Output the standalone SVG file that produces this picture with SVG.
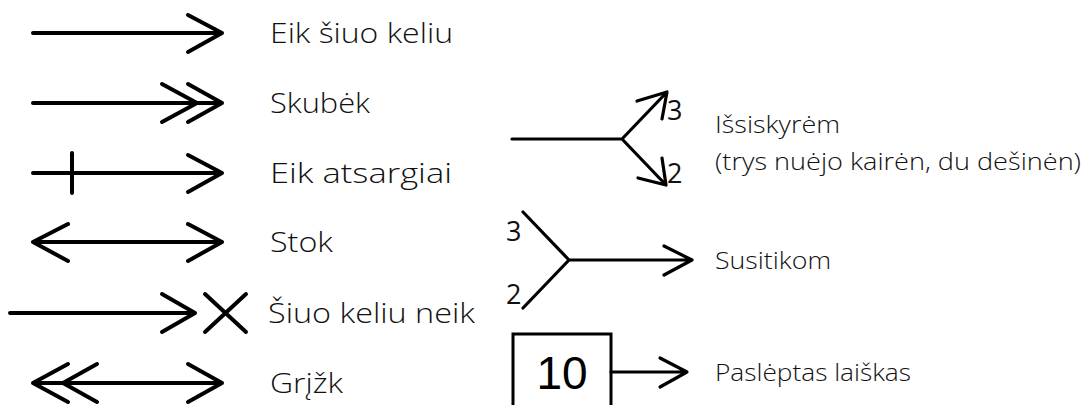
<svg xmlns="http://www.w3.org/2000/svg" width="1085" height="405" viewBox="0 0 1085 405">
<style>
.bg{fill:#fff}
.s{fill:none;stroke:#000;stroke-width:4;stroke-linecap:round;stroke-linejoin:round}
.t{stroke-width:3.2}
.lbl{font-family:"Open Sans","Lato",sans-serif;font-weight:300;font-size:27px;fill:#111}
.lbr{font-family:"Open Sans","Lato",sans-serif;font-weight:300;font-size:24px;fill:#111}
.num{font-family:"Open Sans","Lato",sans-serif;font-weight:400;font-size:27px;fill:#111}
.big{font-family:"Liberation Sans","DejaVu Sans",sans-serif;font-size:46px;fill:#000;text-anchor:middle}
</style>
<rect class="bg" x="0" y="0" width="1085" height="405"/>
<g id="connectors">
  <g id="c1"><path class="s" d="M33 33H222M188 15L222 33L188 52"/></g>
  <g id="c2"><path class="s" d="M33 103H222M188 84L222 103L188 122M162 84L197 103L162 122"/></g>
  <g id="c3"><path class="s" d="M33 173H222M188 155L222 173L188 192M72 153V193"/></g>
  <g id="c4"><path class="s" d="M33 242H222M188 224L222 242L188 261M68 224L33 242L68 261"/></g>
  <g id="c5"><path class="s" d="M10 313H195M162 294L195 313L162 332M205 294L246 332M246 294L205 332"/></g>
  <g id="c6"><path class="s" d="M33 383H222M188 364L222 383L188 402M68 364L33 383L68 402M97 364L63 383L97 402"/></g>
  <g id="c7"><path class="s t" d="M512 139H622L667 92M622 139L666 185M637 101L667 92L662 119M638 178L666 185L662 158"/></g>
  <g id="c8"><path class="s t" d="M523 212L569 260L523 308M569 260H692M664 246L692 260L664 275"/></g>
  <g id="c9"><path class="s t" d="M611 372H687M660 358L687 372L660 387"/></g>
</g>
<g id="n1"><text class="lbl" x="270" y="43" textLength="183" lengthAdjust="spacingAndGlyphs">Eik šiuo keliu</text></g>
<g id="n2"><text class="lbl" x="270" y="113" textLength="100" lengthAdjust="spacingAndGlyphs">Skubėk</text></g>
<g id="n3"><text class="lbl" x="270" y="183" textLength="182" lengthAdjust="spacingAndGlyphs">Eik atsargiai</text></g>
<g id="n4"><text class="lbl" x="270" y="252" textLength="63" lengthAdjust="spacingAndGlyphs">Stok</text></g>
<g id="n5"><text class="lbl" x="268" y="323" textLength="207" lengthAdjust="spacingAndGlyphs">Šiuo keliu neik</text></g>
<g id="n6"><text class="lbl" x="270" y="393" textLength="73" lengthAdjust="spacingAndGlyphs">Grįžk</text></g>
<g id="n7">
  <text class="num" x="667" y="120">3</text>
  <text class="num" x="667" y="183">2</text>
  <text class="lbr" x="715" y="133" textLength="125" lengthAdjust="spacingAndGlyphs">Išsiskyrėm</text>
  <text class="lbr" x="715" y="170" textLength="366" lengthAdjust="spacingAndGlyphs">(trys nuėjo kairėn, du dešinėn)</text>
</g>
<g id="n8">
  <text class="num" x="506" y="241">3</text>
  <text class="num" x="506" y="304">2</text>
  <text class="lbr" x="715" y="269" textLength="116" lengthAdjust="spacingAndGlyphs">Susitikom</text>
</g>
<g id="n9">
  <rect x="513" y="334" width="98" height="80" fill="none" stroke="#000" stroke-width="3"/>
  <text class="big" x="562" y="389">10</text>
  <text class="lbr" x="715" y="381" textLength="196" lengthAdjust="spacingAndGlyphs">Paslėptas laiškas</text>
</g>
</svg>
